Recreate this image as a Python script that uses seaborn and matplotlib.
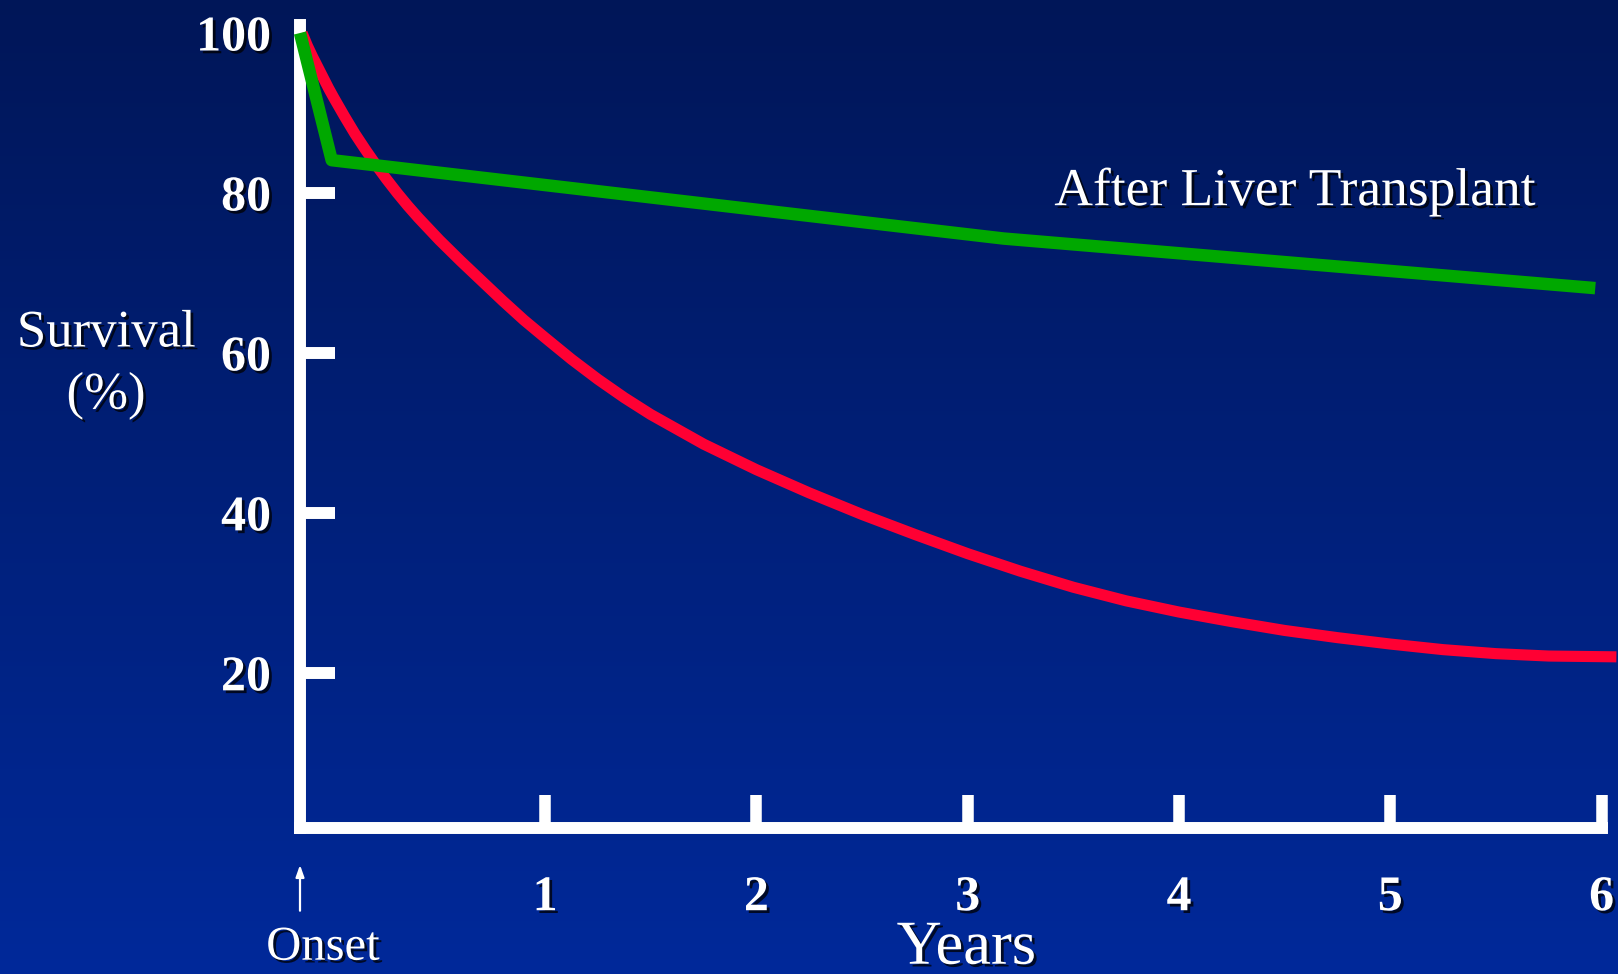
import numpy as np
import pandas as pd
import matplotlib
matplotlib.use("Agg")
import matplotlib.pyplot as plt
import matplotlib.patheffects as pe
import seaborn as sns

# Survival (%) over years from onset, without transplant
untreated_years = [-0.15, -0.125, -0.10, -0.075, -0.05, -0.025, 0.00, 0.05, 0.10, 0.15,
                   0.20, 0.25, 0.30, 0.35, 0.40, 0.45, 0.50, 0.60, 0.70, 0.80, 0.90,
                   1.00, 1.125, 1.25, 1.375, 1.50, 1.75, 2.00, 2.25, 2.50, 2.75,
                   3.00, 3.25, 3.50, 3.75, 4.00, 4.25, 4.50, 4.75, 5.00, 5.25,
                   5.50, 5.75, 6.07]
untreated_survival = [100.0, 98.4, 97.0, 95.7, 94.4, 93.1, 91.9, 89.6, 87.4, 85.4,
                      83.5, 81.7, 80.0, 78.4, 76.9, 75.5, 74.1, 71.5, 69.0, 66.5, 64.1,
                      61.9, 59.2, 56.7, 54.4, 52.3, 48.6, 45.4, 42.5, 39.8, 37.3,
                      34.9, 32.7, 30.7, 29.0, 27.6, 26.4, 25.3, 24.4, 23.6, 22.9,
                      22.4, 22.1, 22.0]

# Survival (%) after liver transplant
transplant_years = [-0.16, -0.01, 3.17, 5.97]
transplant_survival = [100, 84.1, 74.3, 68.1]

y_ticks = [20, 40, 60, 80, 100]
x_ticks = [1, 2, 3, 4, 5, 6]

RED = "#ff0033"
GREEN = "#00a800"
WHITE = "white"

sns.set_style("ticks")
plt.rcParams["font.family"] = ["Liberation Serif", "DejaVu Serif"]

W, H = 1618, 974
fig = plt.figure(figsize=(W / 100, H / 100), dpi=100)

# vertical gradient backdrop
bg = fig.add_axes([0, 0, 1, 1], zorder=0)
top = np.array([0, 22, 88]) / 255
bot = np.array([0, 41, 154]) / 255
t = np.linspace(0, 1, 256)[:, None]
grad = top[None, None, :] * (1 - t[..., None]) + bot[None, None, :] * t[..., None]
grad = np.repeat(grad, 2, axis=1)
bg.imshow(grad, aspect="auto", extent=[0, 1, 0, 1])
bg.set_axis_off()

# plotting area
x0, x1 = 300, 1601.6
y_top, y_bot = 25, 828
ax = fig.add_axes([x0 / W, (H - y_bot) / H, (x1 - x0) / W, (y_bot - y_top) / H], zorder=1)
ax.patch.set_alpha(0)

shadow = [pe.SimplePatchShadow(offset=(2, -2), shadow_rgbFace="black", alpha=0.75), pe.Normal()]

red_df = pd.DataFrame({"year": untreated_years, "survival": untreated_survival})
green_df = pd.DataFrame({"year": transplant_years, "survival": transplant_survival})

sns.lineplot(data=red_df, x="year", y="survival", ax=ax, color=RED, linewidth=8.0,
             estimator=None, sort=False)
sns.lineplot(data=green_df, x="year", y="survival", ax=ax, color=GREEN, linewidth=9.0,
             estimator=None, sort=False)
for ln in ax.lines:
    ln.set_clip_on(False)
    ln.set_solid_capstyle("butt")
ax.lines[0].set_solid_joinstyle("round")
ax.lines[0].set_zorder(3)
ax.lines[1].set_zorder(4)

ax.set_xlim(-0.16, 6.0)
ax.set_ylim(0.6, 101)

for side in ("top", "right"):
    ax.spines[side].set_visible(False)
for side in ("left", "bottom"):
    sp = ax.spines[side]
    sp.set_color(WHITE)
    sp.set_linewidth(8.6)
    sp.set_capstyle("projecting")
    sp.set_zorder(2)

ax.set_xticks(x_ticks)
ax.set_xticklabels([str(v) for v in x_ticks])
ax.set_yticks(y_ticks)
ax.set_yticklabels([str(v) for v in y_ticks])

ax.tick_params(axis="x", direction="in", length=24, width=8.3, color=WHITE,
               labelcolor=WHITE, labelsize=36, pad=34)
ax.tick_params(axis="y", direction="in", length=25, width=8.6, color=WHITE,
               labelcolor=WHITE, labelsize=36, pad=21)
ax.yaxis.get_major_ticks()[-1].tick1line.set_visible(False)
for lab in ax.get_xticklabels() + ax.get_yticklabels():
    lab.set_fontweight("bold")
    lab.set_path_effects(shadow)

ax.set_ylabel("Survival\n(%)", rotation=0, fontsize=38, color=WHITE,
              ha="center", va="center", multialignment="center", linespacing=1.38)
ax.yaxis.set_label_coords(-0.149, 0.577)
ax.yaxis.label.set_path_effects(shadow)

ax.set_xlabel("Years", fontsize=45, color=WHITE, va="baseline")
ax.xaxis.set_label_coords(0.512, -0.169)
ax.xaxis.label.set_path_effects(shadow)

ax.text(0.0176, -0.164, "Onset", transform=ax.transAxes, fontsize=35, color=WHITE,
        ha="center", va="baseline", path_effects=shadow)
ax.annotate("", xy=(0, -0.046), xytext=(0, -0.103), xycoords="axes fraction",
            textcoords="axes fraction", annotation_clip=False,
            arrowprops=dict(arrowstyle="-|>,head_length=0.7,head_width=0.25",
                            color=WHITE, lw=1.6, shrinkA=0, shrinkB=0))

ax.text(3.41, 80.1, "After Liver Transplant", fontsize=38.5, color=WHITE,
        ha="left", va="center", path_effects=shadow)

fig.savefig("out.png", dpi=100)
